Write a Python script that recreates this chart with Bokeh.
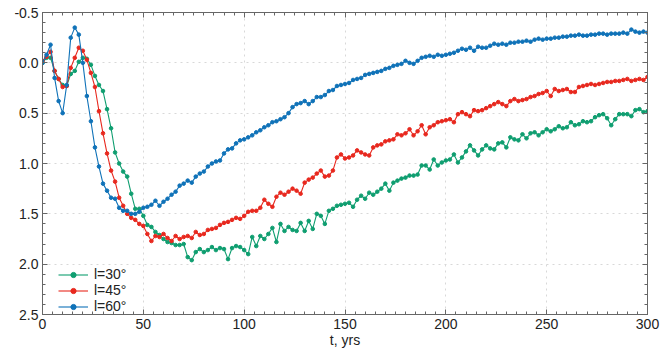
import math
from bokeh.plotting import figure
from bokeh.models import (Range1d, FixedTicker, LinearAxis, Label, Legend,
                          LegendItem, PrintfTickFormatter)
from bokeh.embed import file_html
from bokeh.resources import INLINE

# ---------------- data ----------------
t_years = list(range(0, 301, 2))

dm_l30 = [
    0.00, -0.05, -0.05, 0.08, 0.16, 0.22, 0.23, 0.11, 0.08, -0.01,
    -0.05, -0.04, 0.02, 0.13, 0.22, 0.28, 0.46, 0.65, 0.89, 1.00,
    1.08, 1.13, 1.30, 1.45, 1.45, 1.52, 1.61, 1.63, 1.68, 1.71,
    1.75, 1.78, 1.79, 1.81, 1.81, 1.80, 1.93, 1.96, 1.88, 1.85,
    1.88, 1.86, 1.83, 1.86, 1.84, 1.85, 1.95, 1.84, 1.82, 1.83,
    1.86, 1.90, 1.73, 1.82, 1.72, 1.75, 1.70, 1.64, 1.78, 1.60,
    1.67, 1.63, 1.66, 1.67, 1.59, 1.67, 1.57, 1.65, 1.50, 1.52,
    1.60, 1.47, 1.45, 1.42, 1.41, 1.40, 1.39, 1.43, 1.36, 1.32,
    1.35, 1.29, 1.31, 1.28, 1.25, 1.20, 1.27, 1.19, 1.17, 1.15,
    1.14, 1.12, 1.12, 1.11, 1.02, 1.02, 1.06, 0.96, 1.02, 0.99,
    0.97, 0.96, 0.91, 0.99, 0.94, 0.88, 0.82, 0.87, 0.92, 0.86,
    0.82, 0.85, 0.86, 0.80, 0.79, 0.84, 0.74, 0.76, 0.77, 0.71,
    0.75, 0.70, 0.69, 0.72, 0.69, 0.66, 0.68, 0.66, 0.63, 0.65,
    0.64, 0.59, 0.62, 0.61, 0.58, 0.59, 0.58, 0.54, 0.52, 0.51,
    0.55, 0.62, 0.56, 0.51, 0.51, 0.51, 0.53, 0.47, 0.46, 0.49,
    0.48,
]

dm_l45 = [
    -0.02, -0.06, -0.11, 0.08, 0.16, 0.24, 0.23, 0.05, -0.05, -0.15,
    -0.12, -0.03, 0.10, 0.24, 0.48, 0.70, 0.90, 1.07, 1.18, 1.34,
    1.42, 1.50, 1.54, 1.56, 1.60, 1.62, 1.70, 1.77, 1.72, 1.73,
    1.70, 1.74, 1.77, 1.72, 1.75, 1.73, 1.72, 1.74, 1.68, 1.71,
    1.70, 1.66, 1.65, 1.64, 1.61, 1.59, 1.58, 1.56, 1.54, 1.55,
    1.52, 1.48, 1.47, 1.47, 1.44, 1.36, 1.40, 1.43, 1.33, 1.29,
    1.31, 1.28, 1.25, 1.27, 1.30, 1.19, 1.16, 1.14, 1.10, 1.07,
    1.13, 1.12, 1.07, 0.94, 0.91, 0.95, 0.94, 0.92, 0.87, 0.89,
    0.91, 0.92, 0.84, 0.82, 0.81, 0.78, 0.77, 0.76, 0.71, 0.72,
    0.70, 0.66, 0.72, 0.68, 0.62, 0.71, 0.64, 0.62, 0.59, 0.58,
    0.57, 0.56, 0.59, 0.51, 0.49, 0.51, 0.53, 0.47, 0.48, 0.47,
    0.45, 0.43, 0.41, 0.39, 0.41, 0.43, 0.38, 0.36, 0.38, 0.37,
    0.36, 0.34, 0.33, 0.31, 0.30, 0.28, 0.33, 0.26, 0.28, 0.27,
    0.26, 0.29, 0.29, 0.24, 0.23, 0.22, 0.21, 0.22, 0.21, 0.20,
    0.19, 0.19, 0.18, 0.18, 0.17, 0.16, 0.18, 0.17, 0.16, 0.17,
    0.14,
]

dm_l60 = [
    0.00, -0.08, -0.18, 0.15, 0.38, 0.50, 0.22, -0.25, -0.35, -0.28,
    0.00, 0.33, 0.58, 0.84, 1.03, 1.20, 1.27, 1.34, 1.35, 1.44,
    1.47, 1.47, 1.50, 1.50, 1.48, 1.44, 1.43, 1.41, 1.37, 1.42,
    1.38, 1.35, 1.31, 1.28, 1.22, 1.20, 1.17, 1.19, 1.13, 1.10,
    1.08, 1.03, 1.00, 0.98, 0.97, 0.90, 0.86, 0.85, 0.80, 0.77,
    0.76, 0.74, 0.72, 0.69, 0.67, 0.64, 0.62, 0.59, 0.58, 0.56,
    0.54, 0.50, 0.44, 0.41, 0.40, 0.38, 0.41, 0.38, 0.34, 0.34,
    0.32, 0.28, 0.27, 0.23, 0.22, 0.21, 0.20, 0.17, 0.16, 0.15,
    0.12, 0.11, 0.10, 0.09, 0.08, 0.06, 0.05, 0.03, 0.02, 0.01,
    -0.02, 0.00, 0.01, -0.02, -0.05, -0.06, -0.07, -0.06, -0.08, -0.07,
    -0.08, -0.09, -0.10, -0.12, -0.14, -0.13, -0.15, -0.12, -0.16, -0.15,
    -0.15, -0.17, -0.19, -0.18, -0.19, -0.18, -0.20, -0.20, -0.21, -0.21,
    -0.22, -0.21, -0.23, -0.24, -0.23, -0.24, -0.24, -0.25, -0.25, -0.26,
    -0.26, -0.27, -0.27, -0.28, -0.27, -0.27, -0.28, -0.28, -0.29, -0.29,
    -0.28, -0.29, -0.29, -0.29, -0.30, -0.29, -0.33, -0.31, -0.30, -0.31,
    -0.30,
]

series_labels = ["l=30°", "l=45°", "l=60°"]
series_colors = ["#0f9e70", "#e8281e", "#0f72b8"]
x_ticks = [0, 50, 100, 150, 200, 250, 300]
y_ticks = [-0.5, 0.0, 0.5, 1.0, 1.5, 2.0, 2.5]
x_minor = list(range(0, 301, 5))
y_minor = [round(-0.5 + 0.1 * i, 2) for i in range(31)]

FONT = "Liberation Sans"

# ---------------- figure ----------------
p = figure(width=664, height=350, output_backend="svg", toolbar_location=None,
           x_range=Range1d(0, 300), y_range=Range1d(2.5, -0.5),
           min_border_left=42, min_border_right=17, min_border_top=12,
           min_border_bottom=35)
p.outline_line_color = "#666666"
p.background_fill_color = "white"

def style_axis(ax, ticks, minor, show_labels=True):
    ax.ticker = FixedTicker(ticks=ticks, minor_ticks=minor)
    ax.major_tick_in = 5
    ax.major_tick_out = 0
    ax.minor_tick_in = 3
    ax.minor_tick_out = 0
    ax.axis_line_color = "#666666"
    ax.major_tick_line_color = "#666666"
    ax.minor_tick_line_color = "#666666"
    ax.major_label_text_font = FONT
    ax.major_label_text_color = "#222222" if show_labels else None
    ax.major_label_text_font_size = "14px" if show_labels else "0px"
    ax.major_label_standoff = 4 if show_labels else 0

style_axis(p.xaxis[0], x_ticks, x_minor)
style_axis(p.yaxis[0], y_ticks, y_minor)
p.yaxis[0].formatter = PrintfTickFormatter(format="%.1f")
p.xaxis[0].axis_label = "t, yrs"
p.xaxis[0].axis_label_text_font = FONT
p.xaxis[0].axis_label_text_font_size = "14px"
p.xaxis[0].axis_label_text_font_style = "normal"
p.xaxis[0].axis_label_standoff = 0
p.xaxis[0].axis_label_text_color = "#222222"

top_axis = LinearAxis()
style_axis(top_axis, x_ticks, x_minor, show_labels=False)
p.add_layout(top_axis, "above")
right_axis = LinearAxis()
style_axis(right_axis, y_ticks, y_minor, show_labels=False)
p.add_layout(right_axis, "right")

for g in (p.xgrid[0], p.ygrid[0]):
    g.grid_line_color = "#d8d8d8"
    g.grid_line_dash = "dotted"
p.xgrid[0].ticker = FixedTicker(ticks=x_ticks)
p.ygrid[0].ticker = FixedTicker(ticks=y_ticks)

items = []
for vals, lab, col in zip([dm_l30, dm_l45, dm_l60], series_labels, series_colors):
    ln = p.line(t_years, vals, line_color=col, line_width=1.1)
    sc = p.scatter(t_years, vals, size=3.6, fill_color=col, line_color=col)
    items.append(LegendItem(label=lab, renderers=[ln, sc]))

legend = Legend(items=items, location=(16, 0), glyph_width=30, glyph_height=13,
                label_height=13, spacing=-2, padding=2, margin=0,
                label_text_font=FONT, label_text_font_size="14px",
                label_text_color="#222222", border_line_color=None,
                background_fill_alpha=0, label_standoff=6)
p.add_layout(legend, "center")

ylab = Label(x=-29, y=163, x_units="screen", y_units="screen", text="Δm",
             angle=math.pi / 2, text_align="center", text_baseline="middle",
             text_font=FONT, text_font_size="14px", text_color="#222222")
p.add_layout(ylab)

open("out.html", "w").write(file_html(p, INLINE))
